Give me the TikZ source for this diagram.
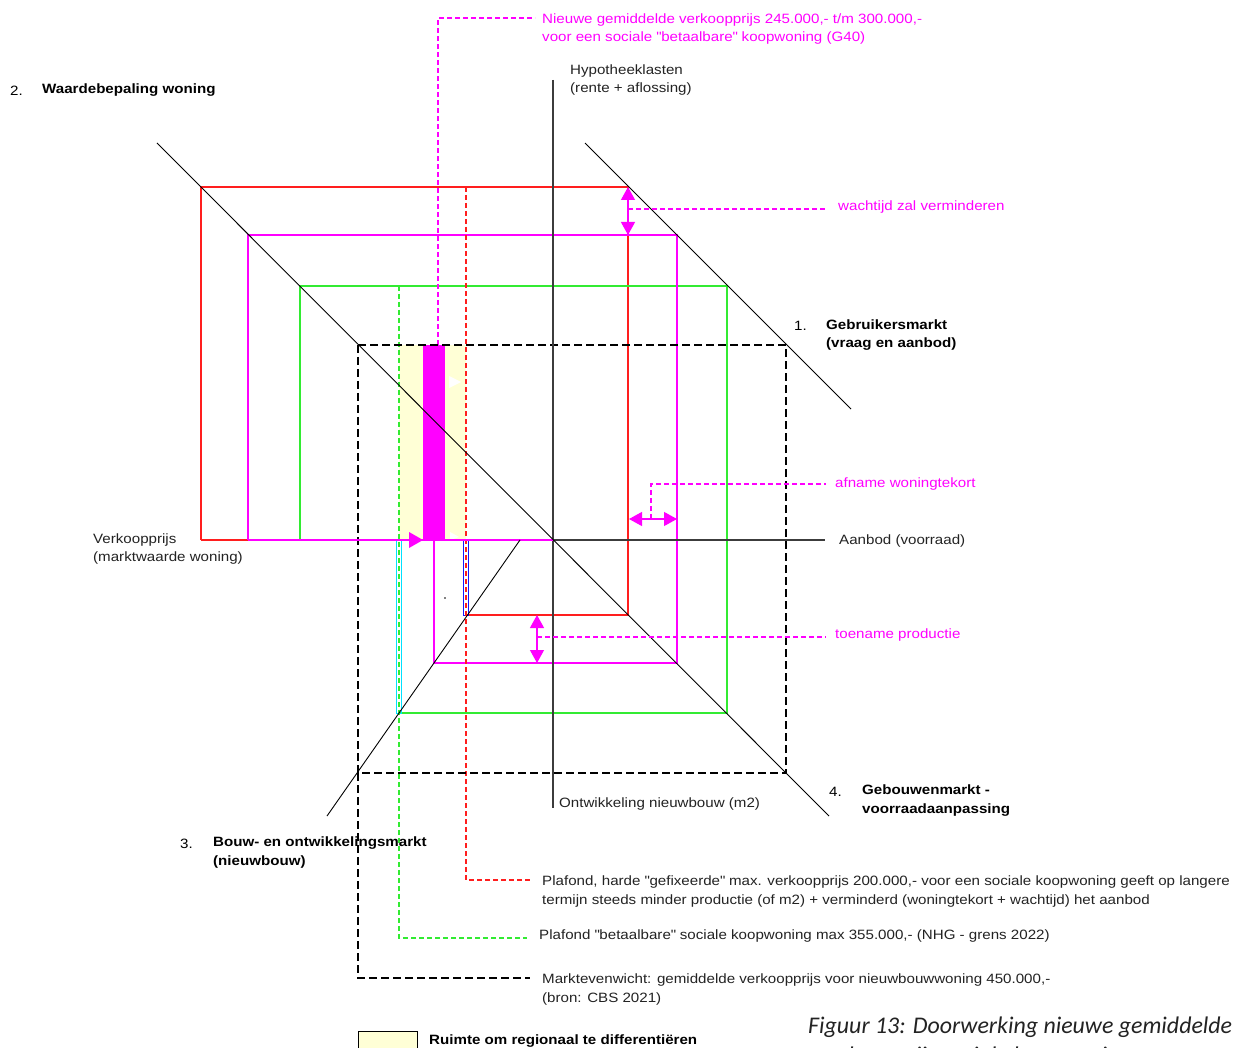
\documentclass[tikz,border=0pt]{standalone}
\usepackage{fontspec}
\setmainfont{Liberation Sans}[FakeStretch=1.12]
\newfontfamily\capfont{Carlito}
\usetikzlibrary{arrows.meta}

\definecolor{mred}{RGB}{255,30,30}
\definecolor{mmag}{RGB}{255,0,255}
\definecolor{mgreen}{RGB}{50,235,50}
\definecolor{mcyan}{RGB}{0,225,255}
\definecolor{mblue}{RGB}{20,20,255}
\definecolor{myellow}{RGB}{255,255,214}
\definecolor{axisgray}{RGB}{60,60,60}
\definecolor{txt}{RGB}{35,35,35}

% straight double quote, set as a glyph so the TeX mapping leaves it alone
\newcommand{\sq}{\XeTeXglyph\XeTeXcharglyph"22\relax}

\tikzset{
  axisline/.style={draw=axisgray, line width=1.4pt},
  diag/.style={draw=black, line width=0.9pt},
  loopline/.style={line width=1.1pt},
  leader/.style={dash pattern=on 5pt off 3pt, line width=1.2pt},
  eqdash/.style={draw=black, dash pattern=on 8pt off 4pt, line width=1.3pt},
  dblarrow/.style={draw=mmag, line width=1.2pt,
    {Triangle[width=14pt,length=13pt]}-{Triangle[width=14pt,length=13pt]}},
  lbl/.style={anchor=west, inner sep=0pt, align=left,
    font=\fontsize{13.5}{18.5}\selectfont, text=txt},
  mlbl/.style={lbl, text=mmag},
  blbl/.style={lbl, text=black, font=\fontsize{13.5}{18.5}\selectfont\bfseries},
}

\begin{document}
\begin{tikzpicture}[x=1pt, y=-1pt]
\clip (0,0) rectangle (1245,1048);
\fill[white] (0,0) rectangle (1245,1048);

% --- centre of the four-quadrant model
\coordinate (O) at (553,540);

% --- band of regional freedom and the new price bar
\fill[myellow] (399,345) rectangle (466,540);
\fill[mmag] (423,345) rectangle (445,540);
\fill[white] (449,376) -- (461,382) -- (449,388) -- cycle;
\fill[white] (450,532) -- (459,537) -- (450,540) -- cycle;

% --- market loops
\draw[mred, loopline] (201,540) -- (201,187) -- (628,187) -- (628,615) -- (466,615);
\draw[mred, loopline] (201,540) -- (248,540);
\draw[mgreen, loopline] (300,540) -- (300,286) -- (727,286) -- (727,713) -- (399,713);
\draw[mmag, loopline] (434,540) -- (434,663) -- (677,663) -- (677,235) -- (248,235) -- (248,540);

% --- narrow side strips in quadrant 3
\draw[mblue, line width=0.9pt] (463.5,540) rectangle (468.5,615);
\draw[mcyan, line width=0.9pt] (396.5,540) rectangle (401.5,713);

% --- leader lines to the ceilings
\coordinate (redtop) at (466,187);
\coordinate (redend) at (530,880);
\coordinate (greentop) at (399,286);
\coordinate (greenend) at (527,938);
\coordinate (magtop) at (438,345);
\coordinate (magend) at (535,18);
\draw[mred, leader] (redtop) -- (466,880) -- (redend);
\draw[mgreen, leader] (greentop) -- (399,938) -- (greenend);
\draw[mmag, leader] (magtop) -- (438,18) -- (magend);

% --- market equilibrium (dashed square)
\draw[eqdash] (358,345) rectangle (786,773);
\draw[eqdash] (358,773) -- (358,978) -- (530,978);

% --- axes
\draw[axisline] (553,80) -- (553,808);
\draw[axisline] (O) -- (825,540);
\draw[mmag, loopline] (248,540) -- (O);
\fill[mmag] (409,532) -- (423,540) -- (409,548) -- cycle;

% --- quadrant lines
\draw[diag] (157,143) -- (829,816);
\draw[diag] (585,143) -- (851,409);
\draw[diag] (327,816) -- (520,540);
\fill[black] (445,598) circle (0.8pt);

% --- effect arrows
\draw[dblarrow] (628,187) -- (628,235);
\draw[dblarrow] (629,519) -- (677,519);
\draw[dblarrow] (537,615) -- (537,663);

% --- labels
\node[mlbl] (newprice) at (542,29) {Nieuwe gemiddelde verkoopprijs 245.000,- t/m 300.000,-\\voor een sociale \sq betaalbare\sq{} koopwoning (G40)};
\node[lbl, text=black] (n2) at (10,90.5) {2.};
\node[blbl] (q2) at (42,90.5) {Waardebepaling woning};
\node[lbl] (yaxis) at (570,80) {Hypotheeklasten\\(rente + aflossing)};
\node[mlbl] (wacht) at (838,207.5) {wachtijd zal verminderen};
\node[lbl, text=black] (n1) at (794,325.5) {1.};
\node[blbl] (q1) at (826,335) {Gebruikersmarkt\\(vraag en aanbod)};
\node[mlbl] (afname) at (835,484.5) {afname woningtekort};
\node[lbl] (xaxis) at (839,541.5) {Aanbod (voorraad)};
\node[lbl] (xneg) at (93,549) {Verkoopprijs\\(marktwaarde woning)};
\node[mlbl] (toename) at (835,635.5) {toename productie};
\node[lbl, text=black] (n4) at (829,791.5) {4.};
\node[blbl] (q4) at (862,800.5) {Gebouwenmarkt -\\voorraadaanpassing};
\node[lbl] (yneg) at (559,804.5) {Ontwikkeling nieuwbouw (m2)};
\node[lbl, text=black] (n3) at (180,843.5) {3.};
\node[blbl] (q3) at (213,852.5) {Bouw- en ontwikkelingsmarkt\\(nieuwbouw)};
\node[lbl] (redtxt) at (542,891.5) {Plafond, harde \sq gefixeerde\sq{} max. verkoopprijs 200.000,- voor een sociale koopwoning geeft op langere\\termijn steeds minder productie (of m2) + verminderd (woningtekort + wachtijd) het aanbod};
\node[lbl] (greentxt) at (539,936.5) {Plafond \sq betaalbare\sq{} sociale koopwoning max 355.000,- (NHG - grens 2022)};
\node[lbl] (eqtxt) at (542,989.5) {Marktevenwicht: gemiddelde verkoopprijs voor nieuwbouwwoning 450.000,-\\(bron: CBS 2021)};

% --- leaders from the effect arrows to their labels
\draw[mmag, leader] (628,209) -- (826,209);
\draw[mmag, leader] (651,519) -- (651,484) -- (826,484);
\draw[mmag, leader] (537,637) -- (826,637);

% --- legend
\node[draw=black, line width=0.9pt, fill=myellow, minimum width=59pt, minimum height=22pt,
      inner sep=0pt, anchor=north west] (legbox) at (358,1031) {};
\node[blbl] (legtxt) at (429,1041.5) {Ruimte om regionaal te differentiëren};

% --- caption
\node[anchor=west, inner sep=0pt, align=left, text=txt,
      font=\capfont\itshape\fontsize{23.9}{29.5}\selectfont] (caption) at (808,1042)
  {Figuur 13: Doorwerking nieuwe gemiddelde\\\hspace*{10pt}verkoopprijs sociale koopwoning};
\end{tikzpicture}
\end{document}
